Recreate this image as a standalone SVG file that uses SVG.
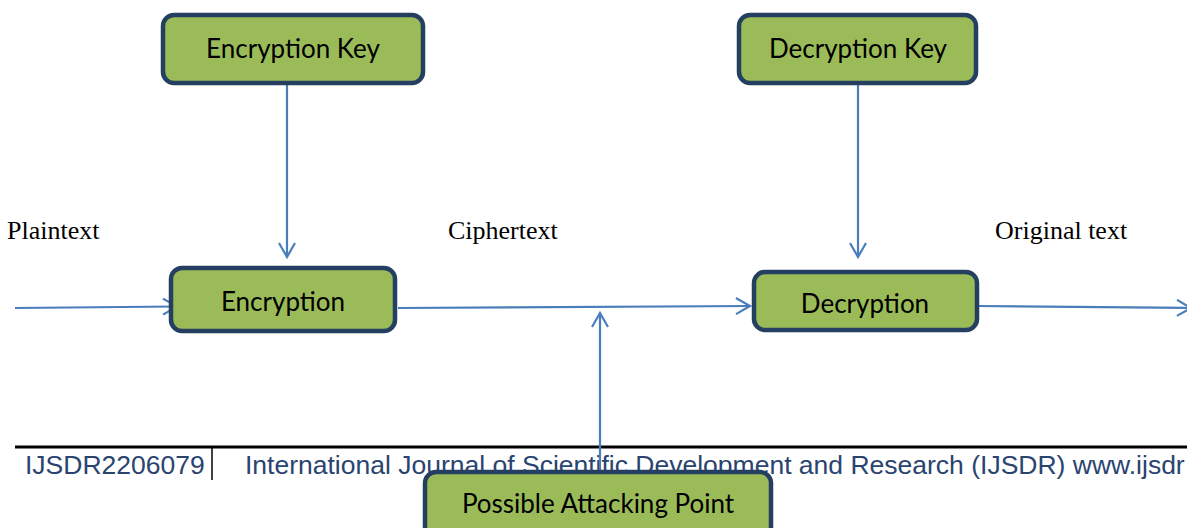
<svg xmlns="http://www.w3.org/2000/svg" width="1187" height="528" viewBox="0 0 1187 528">
  <style>
    .box { fill: #9BBB59; stroke: #243F60; stroke-width: 4.5; }
    .lbl { font-family: Lato, "Open Sans", sans-serif; font-size: 26px; fill: #000; text-anchor: middle; }
    .side { font-family: "Liberation Serif", "Times New Roman", serif; font-size: 26px; fill: #000; }
    .wire { stroke: #4A7EBB; stroke-width: 2.2; fill: none; }
    .foot { font-family: "Liberation Sans", Arial, sans-serif; font-size: 26.5px; fill: #2A4470; }
  </style>
  <defs>
    <marker id="arrow" markerUnits="userSpaceOnUse" markerWidth="18" markerHeight="20" refX="15" refY="9" orient="auto">
      <path d="M1,1 L15,9 L1,17" fill="none" stroke="#4A7EBB" stroke-width="2.2"/>
    </marker>
  </defs>

  <rect width="1187" height="528" fill="#fff"/>

  <!-- page footer -->
  <g id="footer">
    <line x1="15" y1="447" x2="1187" y2="447" stroke="#000" stroke-width="3"/>
    <line x1="212" y1="448" x2="212" y2="480" stroke="#000" stroke-width="1.5"/>
    <text class="foot" x="25" y="474">IJSDR2206079</text>
    <text class="foot" x="245" y="474">International Journal of Scientific Development and Research (IJSDR) www.ijsdr</text>
  </g>

  <!-- side labels -->
  <g id="labels">
    <text class="side" x="7" y="239">Plaintext</text>
    <text class="side" x="448" y="239">Ciphertext</text>
    <text class="side" x="995" y="239">Original text</text>
  </g>

  <!-- connectors -->
  <g id="connectors">
    <line class="wire" x1="15" y1="308" x2="177" y2="306.5" marker-end="url(#arrow)"/>
    <line class="wire" x1="287" y1="85" x2="287" y2="257" marker-end="url(#arrow)"/>
    <line class="wire" x1="398" y1="308" x2="750" y2="306" marker-end="url(#arrow)"/>
    <line class="wire" x1="858" y1="85" x2="858" y2="257" marker-end="url(#arrow)"/>
    <line class="wire" x1="979" y1="306" x2="1191" y2="308" marker-end="url(#arrow)"/>
    <line class="wire" x1="600" y1="472" x2="600" y2="313" marker-end="url(#arrow)"/>
  </g>

  <!-- nodes -->
  <g id="encryption-key">
    <rect class="box" x="163" y="15" width="260" height="68" rx="11"/>
    <text class="lbl" x="293" y="58">Encryption Key</text>
  </g>
  <g id="decryption-key">
    <rect class="box" x="739" y="15" width="237" height="68" rx="11"/>
    <text class="lbl" x="858" y="58">Decryption Key</text>
  </g>
  <g id="encryption">
    <rect class="box" x="171" y="268" width="224" height="63" rx="11"/>
    <text class="lbl" x="283" y="311">Encryption</text>
  </g>
  <g id="decryption">
    <rect class="box" x="754" y="272" width="223" height="58" rx="11"/>
    <text class="lbl" x="865" y="313">Decryption</text>
  </g>
  <g id="attack-point">
    <rect class="box" x="425" y="472" width="346" height="80" rx="11"/>
    <text class="lbl" x="598" y="513">Possible Attacking Point</text>
  </g>
</svg>
